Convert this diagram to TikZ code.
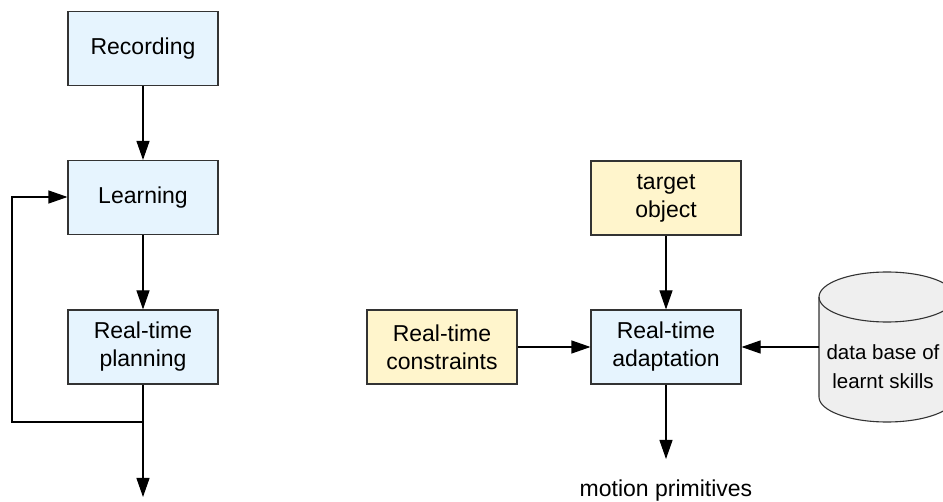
\documentclass[tikz,border=0pt]{standalone}
\usepackage{fontspec}
\setmainfont{Liberation Sans}
\usetikzlibrary{arrows.meta}
\definecolor{lblue}{HTML}{E6F4FE}
\definecolor{lyellow}{HTML}{FFF5CC}
\definecolor{cylgray}{HTML}{EFEFEF}
\definecolor{edgegray}{HTML}{333333}
\tikzset{
  boxbase/.style={draw=edgegray, line width=1.1pt, minimum width=150pt, minimum height=74pt,
    inner sep=0pt, align=center, font=\fontsize{23}{28}\selectfont},
  bluebox/.style={boxbase, fill=lblue},
  yellowbox/.style={boxbase, fill=lyellow},
  conn/.style={line width=1.1pt, draw=black},
  arr/.style={conn, -{Triangle[length=19pt,width=13pt]}},
  plaintext/.style={inner sep=0pt, font=\fontsize{23}{28}\selectfont},
  dbtext/.style={inner sep=0pt, align=center, font=\fontsize{20.5}{29}\selectfont}
}
\begin{document}
\begin{tikzpicture}[x=1pt,y=1pt]
\useasboundingbox (0,0) rectangle (943,501);
% left flow
\node[bluebox] (rec) at (143,452.5) {Recording};
\node[bluebox] (learn) at (143,303.5) {Learning};
\node[bluebox] (plan) at (143,154) {Real-time\\planning};
\coordinate (branch) at (143,79);
\coordinate (loopbl) at (12,79);
\coordinate (looptl) at (12,304);
\coordinate (outend) at (143,4);
\draw[arr] (rec) -- (learn);
\draw[arr] (learn) -- (plan);
\draw[arr] (plan) -- (outend);
\draw[arr] (branch) -- (loopbl) -- (looptl) -- (learn.west |- looptl);
% right flow
\node[yellowbox] (target) at (666,303) {target\\object};
\node[bluebox] (adapt) at (666,154) {Real-time\\adaptation};
\node[yellowbox] (cons) at (442,154) {Real-time\\constraints};
\coordinate (mpend) at (666,42);
\node[plaintext, anchor=base] (mp) at (666,5) {motion primitives};
\draw[arr] (target) -- (adapt);
\draw[arr] (cons) -- (adapt);
\draw[arr] (adapt) -- (mpend);
% database cylinder
\draw[line width=1.1pt, draw=edgegray, fill=cylgray]
  (819,204) -- (819,104) arc[start angle=180, end angle=360, x radius=68pt, y radius=25pt]
  -- (955,204) arc[start angle=0, end angle=180, x radius=68pt, y radius=25pt] -- cycle;
\draw[line width=1.1pt, draw=edgegray] (819,204) arc[start angle=180, end angle=360, x radius=68pt, y radius=25pt];
\node[dbtext] (db) at (883,134) {data base of\\learnt skills};
\coordinate (dbleft) at (819,154);
\draw[arr] (dbleft) -- (adapt);
\end{tikzpicture}
\end{document}
